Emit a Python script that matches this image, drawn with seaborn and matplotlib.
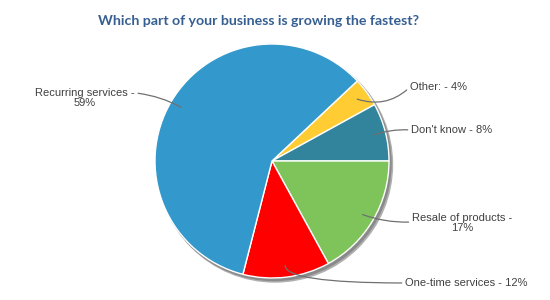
import numpy as np
import matplotlib
matplotlib.use("Agg")
import matplotlib.pyplot as plt
import seaborn as sns
from matplotlib.patches import Circle

sns.set_theme(style="white")
plt.rcParams['font.family'] = ['Liberation Sans', 'DejaVu Sans']

title = "Which part of your business is growing the fastest?"
categories = ["Other:", "Don't know", "Resale of products", "One-time services", "Recurring services"]
values = [4, 8, 17, 12, 59]
wrap = [False, False, True, False, True]
colors = ["#FFCC33", "#31849B", "#7FC45B", "#FF0000", "#3399CC"]

fig = plt.figure(figsize=(5.5, 3.0), dpi=100)
ax = fig.add_axes([0, 0, 1, 1])

cx, cy, r = 272, 139, 117
# shadow
ax.add_patch(Circle((cx + 3, cy - 3.5), r + 0.5, color="#b0b0b0", zorder=0))
ax.add_patch(Circle((cx + 2, cy - 2.5), r, color="#8a8a8a", zorder=0.5))

wedges, _ = ax.pie(values, colors=colors, startangle=43.2, counterclock=False,
                   center=(cx, cy), radius=r, frame=True,
                   wedgeprops=dict(edgecolor="white", linewidth=1.0))
for w in wedges:
    w.set_zorder(2)
ax.set_xlim(0, 550)
ax.set_ylim(0, 300)
ax.set_aspect("equal")
ax.axis("off")

texts = []
for c, v, wr in zip(categories, values, wrap):
    texts.append(f"{c} -\n{v}%" if wr else f"{c} - {v}%")

# text positions (pixel, y-down) and leader styles
layout = [
    dict(xy=(410, 87), ha="left", rel=(0, 0.5), cs="arc3,rad=-0.3"),
    dict(xy=(411, 130), ha="left", rel=(0, 0.5), cs="arc3,rad=0.1"),
    dict(xy=(462, 223), ha="center", rel=(0, 0.55), cs="arc3,rad=-0.1"),
    dict(xy=(405, 283), ha="left", rel=(0, 0.5), cs="angle3,angleA=0,angleB=90"),
    dict(xy=(85, 98), ha="center", rel=(1, 0.75), cs="arc3,rad=-0.1"),
]

for w, t, L in zip(wedges, texts, layout):
    ang = np.deg2rad((w.theta1 + w.theta2) / 2)
    px = cx + 0.9 * r * np.cos(ang)
    py = cy + 0.9 * r * np.sin(ang)
    tx, ty = L["xy"]
    ax.annotate(t, xy=(px, py), xytext=(tx, 300 - ty), ha=L["ha"], va="center",
                multialignment="center",
                fontsize=8, color="#404040", linespacing=1.05, zorder=5,
                arrowprops=dict(arrowstyle="-", color="#707070", lw=0.9,
                                connectionstyle=L["cs"], relpos=L["rel"],
                                shrinkA=0, shrinkB=0))

fig.text(259 / 550, 1 - 21 / 300, title, ha="center", va="center",
         fontsize=10.2, fontweight="bold", color="#365F91", family=["Lato", "DejaVu Sans"])

fig.savefig("out.png", dpi=100)
